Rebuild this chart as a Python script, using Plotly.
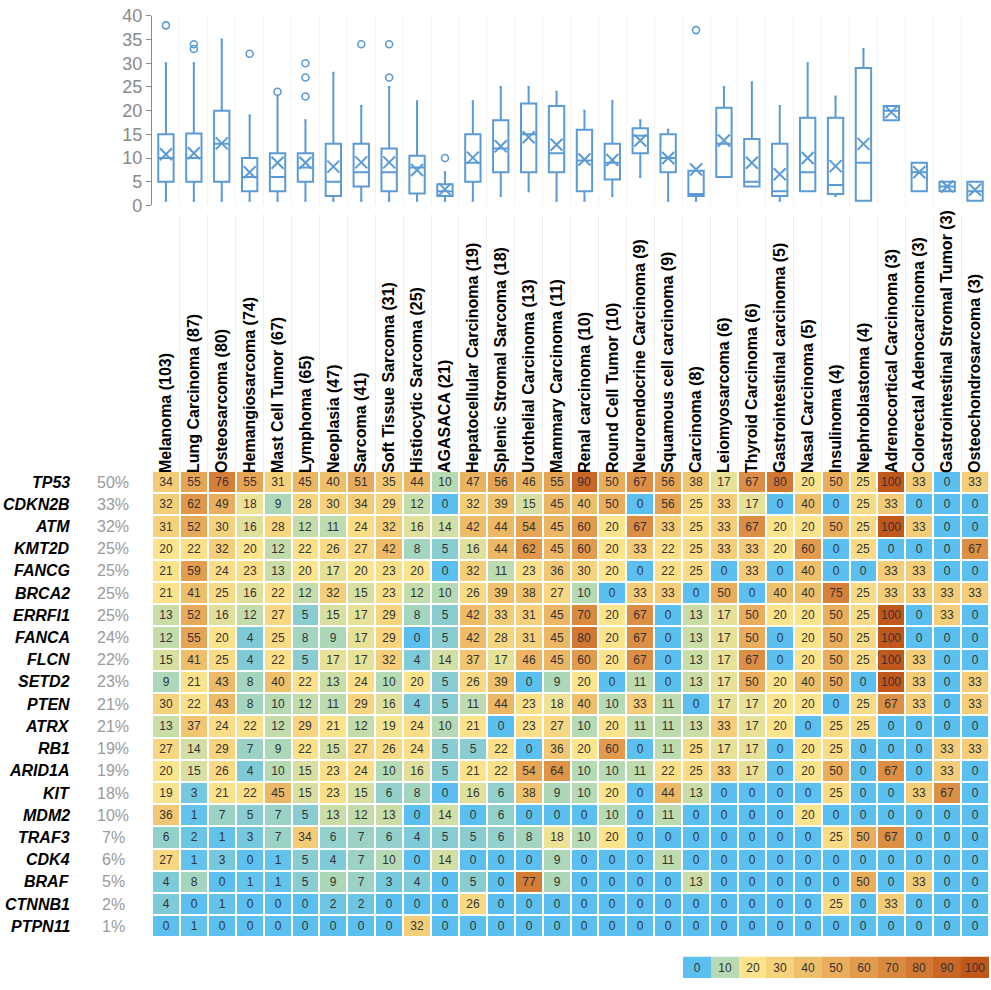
import plotly.graph_objects as go

cancers = ["Melanoma (103)", "Lung Carcinoma (87)", "Osteosarcoma (80)", "Hemangiosarcoma (74)",
           "Mast Cell Tumor (67)", "Lymphoma (65)", "Neoplasia (47)", "Sarcoma (41)",
           "Soft Tissue Sarcoma (31)", "Histiocytic Sarcoma (25)", "AGASACA (21)",
           "Hepatocellular Carcinoma (19)", "Splenic Stromal Sarcoma (18)", "Urothelial Carcinoma (13)",
           "Mammary Carcinoma (11)", "Renal carcinoma (10)", "Round Cell Tumor (10)",
           "Neuroendocrine Carcinoma (9)", "Squamous cell carcinoma (9)", "Carcinoma (8)",
           "Leiomyosarcoma (6)", "Thyroid Carcinoma (6)", "Gastrointestinal carcinoma (5)",
           "Nasal Carcinoma (5)", "Insulinoma (4)", "Nephroblastoma (4)", "Adrenocortical Carcinoma (3)",
           "Colorectal Adenocarcinoma (3)", "Gastrointestinal Stromal Tumor (3)", "Osteochondrosarcoma (3)"]

genes = ["TP53", "CDKN2B", "ATM", "KMT2D", "FANCG", "BRCA2", "ERRFI1", "FANCA", "FLCN", "SETD2",
         "PTEN", "ATRX", "RB1", "ARID1A", "KIT", "MDM2", "TRAF3", "CDK4", "BRAF", "CTNNB1", "PTPN11"]
gene_pct = ["50%", "33%", "32%", "25%", "25%", "25%", "25%", "24%", "22%", "23%",
            "21%", "21%", "19%", "19%", "18%", "10%", "7%", "6%", "5%", "2%", "1%"]

heat = [
    [34, 55, 76, 55, 31, 45, 40, 51, 35, 44, 10, 47, 56, 46, 55, 90, 50, 67, 56, 38, 17, 67, 80, 20, 50, 25, 100, 33, 0, 33],
    [32, 62, 49, 18, 9, 28, 30, 34, 29, 12, 0, 32, 39, 15, 45, 40, 50, 0, 56, 25, 33, 17, 0, 40, 0, 25, 33, 0, 0, 0],
    [31, 52, 30, 16, 28, 12, 11, 24, 32, 16, 14, 42, 44, 54, 45, 60, 20, 67, 33, 25, 33, 67, 20, 20, 50, 25, 100, 33, 0, 0],
    [20, 22, 32, 20, 12, 22, 26, 27, 42, 8, 5, 16, 44, 62, 45, 60, 20, 33, 22, 25, 33, 33, 20, 60, 0, 25, 0, 0, 0, 67],
    [21, 59, 24, 23, 13, 20, 17, 20, 23, 20, 0, 32, 11, 23, 36, 30, 20, 0, 22, 25, 0, 33, 0, 40, 0, 0, 33, 33, 0, 0],
    [21, 41, 25, 16, 22, 12, 32, 15, 23, 12, 10, 26, 39, 38, 27, 10, 0, 33, 33, 0, 50, 0, 40, 40, 75, 25, 33, 33, 33, 33],
    [13, 52, 16, 12, 27, 5, 15, 17, 29, 8, 5, 42, 33, 31, 45, 70, 20, 67, 0, 13, 17, 50, 20, 20, 50, 25, 100, 0, 33, 0],
    [12, 55, 20, 4, 25, 8, 9, 17, 29, 0, 5, 42, 28, 31, 45, 80, 20, 67, 0, 13, 17, 50, 0, 20, 50, 25, 100, 0, 0, 0],
    [15, 41, 25, 4, 22, 5, 17, 17, 32, 4, 14, 37, 17, 46, 45, 60, 20, 67, 0, 13, 17, 67, 0, 20, 50, 25, 100, 33, 0, 0],
    [9, 21, 43, 8, 40, 22, 13, 24, 10, 20, 5, 26, 39, 0, 9, 20, 0, 11, 0, 13, 17, 50, 20, 40, 50, 0, 100, 33, 0, 33],
    [30, 22, 43, 8, 10, 12, 11, 29, 16, 4, 5, 11, 44, 23, 18, 40, 10, 33, 11, 0, 17, 17, 20, 20, 0, 25, 67, 33, 0, 33],
    [13, 37, 24, 22, 12, 29, 21, 12, 19, 24, 10, 21, 0, 23, 27, 10, 20, 11, 11, 13, 33, 17, 20, 0, 25, 25, 0, 0, 0, 0],
    [27, 14, 29, 7, 9, 22, 15, 27, 26, 24, 5, 5, 22, 0, 36, 20, 60, 0, 11, 25, 17, 17, 0, 20, 25, 0, 0, 0, 33, 33],
    [20, 15, 26, 4, 10, 15, 23, 24, 10, 16, 5, 21, 22, 54, 64, 10, 10, 11, 22, 25, 33, 17, 0, 20, 50, 0, 67, 0, 33, 0],
    [19, 3, 21, 22, 45, 15, 23, 15, 6, 8, 0, 16, 6, 38, 9, 10, 20, 0, 44, 13, 0, 0, 0, 0, 25, 0, 0, 33, 67, 0],
    [36, 1, 7, 5, 7, 5, 13, 12, 13, 0, 14, 0, 6, 0, 0, 0, 10, 0, 11, 0, 0, 0, 0, 20, 0, 0, 0, 0, 0, 0],
    [6, 2, 1, 3, 7, 34, 6, 7, 6, 4, 5, 5, 6, 8, 18, 10, 20, 0, 0, 0, 0, 0, 0, 0, 25, 50, 67, 0, 0, 0],
    [27, 1, 3, 0, 1, 5, 4, 7, 10, 0, 14, 0, 0, 0, 9, 0, 0, 0, 11, 0, 0, 0, 0, 0, 0, 0, 0, 0, 0, 0],
    [4, 8, 0, 1, 1, 5, 9, 7, 3, 4, 0, 5, 0, 77, 9, 0, 0, 0, 0, 13, 0, 0, 0, 0, 0, 50, 0, 33, 0, 0],
    [4, 0, 1, 0, 0, 0, 2, 2, 0, 0, 0, 26, 0, 0, 0, 0, 0, 0, 0, 0, 0, 0, 0, 0, 25, 0, 33, 0, 0, 0],
    [0, 1, 0, 0, 0, 0, 0, 0, 0, 32, 0, 0, 0, 0, 0, 0, 0, 0, 0, 0, 0, 0, 0, 0, 0, 0, 0, 0, 0, 0],
]

# box plot statistics per cancer type (same order as cancers)
box_low = [1, 1, 1, 1, 1, 1, 1, 1, 1, 1, 1, 1, 2, 3, 1, 1, 2, 6, 1, 1, 6, 4, 1, 3, 2, 1, 18, 3, 3, 1]
box_q1 = [5, 5, 5, 3, 3, 5, 2, 4, 3, 2.5, 2, 5, 7, 7, 7, 3, 5.5, 11, 7, 2, 6, 4, 2, 3, 2.4, 1, 18, 3, 3, 1]
box_median = [10, 10, 13, 6, 6, 8, 5, 7, 7, 8, 3, 9, 12, 15, 11, 9.5, 9, 14.7, 10, 2.4, 13, 5, 3, 7, 4.3, 9, 20, 7, 4, 3]
box_q3 = [15, 15.2, 20, 10, 11, 11, 13, 13, 12, 10.5, 4.5, 15, 18, 21.5, 21, 16, 13, 16.3, 15, 7.3, 20.6, 14, 13, 18.5, 18.5, 29, 21, 9, 5, 5]
box_high = [30, 30, 35, 19, 23, 18, 28, 21, 25, 22, 7, 22, 25, 25, 24, 20, 22, 18, 16, 7.3, 25, 26, 21, 30, 23, 33, 21, 9, 5, 5]
box_mean = [10.8, 11.0, 13.1, 7.0, 9.0, 9.0, 8.2, 9.1, 9.1, 7.5, 3.4, 10.1, 12.5, 14.4, 12.8, 9.7, 9.6, 13.7, 10.0, 7.6,
            13.7, 9.0, 6.6, 10.0, 8.3, 13.0, 19.7, 7.0, 4.0, 3.3]
outlier_cancer = ["Melanoma (103)", "Lung Carcinoma (87)", "Lung Carcinoma (87)", "Hemangiosarcoma (74)",
                  "Mast Cell Tumor (67)", "Lymphoma (65)", "Lymphoma (65)", "Lymphoma (65)", "Sarcoma (41)",
                  "Soft Tissue Sarcoma (31)", "Soft Tissue Sarcoma (31)", "AGASACA (21)", "Carcinoma (8)"]
outlier_value = [38, 34, 33, 32, 24, 30, 27, 23, 34, 34, 27, 10, 37]

legend_vals = [0, 10, 20, 30, 40, 50, 60, 70, 80, 90, 100]

colorscale = [
    [0.0, "#5BC0F0"], [0.1, "#B6DAB3"], [0.2, "#FCE48C"], [0.3, "#F7D27D"], [0.4, "#EFC06C"],
    [0.5, "#E9AD5C"], [0.6, "#E29B4D"], [0.7, "#DA8940"], [0.8, "#D27833"], [0.9, "#CA6727"], [1.0, "#C1571B"],
]

W, H = 991, 990
box_color = "#5B9BD5"
x0, x1 = 152 / W, 989 / W
FONT = "Liberation Sans, Arial"

fig = go.Figure()

# heatmap
fig.add_trace(go.Heatmap(
    z=heat, x=cancers, y=genes, colorscale=colorscale, zmin=0, zmax=100, showscale=False,
    xgap=2, ygap=2, texttemplate="%{z}", textfont=dict(size=12, color="#333333", family=FONT),
    hoverinfo="skip", xaxis="x", yaxis="y"))

# box plot
fig.add_trace(go.Box(
    x=cancers, q1=box_q1, median=box_median, q3=box_q3, lowerfence=box_low, upperfence=box_high,
    line=dict(color=box_color, width=2), fillcolor="rgba(255,255,255,0)", width=0.55,
    whiskerwidth=0.15, boxpoints=False, hoverinfo="skip", xaxis="x2", yaxis="y2", showlegend=False))
fig.add_trace(go.Scatter(
    x=cancers, y=box_mean, mode="markers", xaxis="x2", yaxis="y2", showlegend=False, hoverinfo="skip",
    marker=dict(symbol="x-thin-open", size=12, line=dict(color=box_color, width=2), color=box_color)))
fig.add_trace(go.Scatter(
    x=outlier_cancer, y=outlier_value, mode="markers", xaxis="x2", yaxis="y2", showlegend=False, hoverinfo="skip",
    marker=dict(symbol="circle-open", size=7, line=dict(color=box_color, width=1.6), color=box_color)))

# invisible trace for the label-region gridlines
fig.add_trace(go.Scatter(x=cancers, y=[0.5] * len(cancers), mode="markers", marker=dict(opacity=0),
                         xaxis="x3", yaxis="y3", showlegend=False, hoverinfo="skip"))

# colour legend
fig.add_trace(go.Heatmap(
    z=[legend_vals], x=[str(v) for v in legend_vals], y=["legend"], colorscale=colorscale, zmin=0, zmax=100,
    showscale=False, texttemplate="%{z}", textfont=dict(size=12, color="#333333", family=FONT),
    hoverinfo="skip", xaxis="x4", yaxis="y4"))

# gene labels and percentages
for g, p in zip(genes, gene_pct):
    fig.add_annotation(x=72 / W, xref="paper", y=g, yref="y", text=f"<b><i>{g}</i></b>", showarrow=False,
                       xanchor="right", font=dict(size=16, color="black", family=FONT))
    fig.add_annotation(x=113 / W, xref="paper", y=g, yref="y", text=p, showarrow=False,
                       xanchor="center", font=dict(size=16, color="#9a9a9a", family=FONT))

n = len(cancers)
fig.update_layout(
    width=W, height=H, margin=dict(l=0, r=0, t=0, b=0),
    paper_bgcolor="white", plot_bgcolor="white", showlegend=False,
    font=dict(family=FONT),
    xaxis=dict(domain=[x0, x1], anchor="y", side="top", tickangle=-90, ticks="", showgrid=False,
               zeroline=False, range=[-0.5, n - 0.5], categoryorder="array", categoryarray=cancers,
               ticklabelstandoff=-3,
               tickfont=dict(size=16, color="black", family=FONT, weight="bold")),
    yaxis=dict(domain=[1 - 946.5 / H, 1 - 470.5 / H], anchor="x", autorange="reversed",
               showticklabels=False, showgrid=False, zeroline=False, ticks=""),
    xaxis2=dict(domain=[x0, x1], anchor="y2", showticklabels=False, ticks="", range=[-0.5, n - 0.5],
                categoryorder="array", categoryarray=cancers, tickson="boundaries", showgrid=True,
                gridcolor="#f3f3f3", zeroline=False),
    yaxis2=dict(domain=[1 - 199.5 / H, 1 - 6 / H], anchor="x2", range=[0, 40], dtick=5, showgrid=False,
                zeroline=False, showline=True, linecolor="#8a8a8a", linewidth=1.2, ticks="outside",
                ticklen=5, tickcolor="#8a8a8a", ticklabeloverflow="allow",
                tickfont=dict(size=18, color="#8a8a8a")),
    xaxis3=dict(domain=[x0, x1], anchor="y3", showticklabels=False, ticks="", range=[-0.5, n - 0.5],
                categoryorder="array", categoryarray=cancers, tickson="boundaries", showgrid=True,
                gridcolor="#efefef", zeroline=False),
    yaxis3=dict(domain=[1 - 470 / H, 1 - 208 / H], anchor="x3", range=[0, 1], visible=False),
    xaxis4=dict(domain=[683 / W, 989 / W], anchor="y4", visible=False),
    yaxis4=dict(domain=[1 - 988 / H, 1 - 966 / H], anchor="x4", visible=False),
)

fig.write_html("out.html", config={"displayModeBar": False},
               post_script="document.body.style.margin='0';document.body.style.overflow='hidden';")
